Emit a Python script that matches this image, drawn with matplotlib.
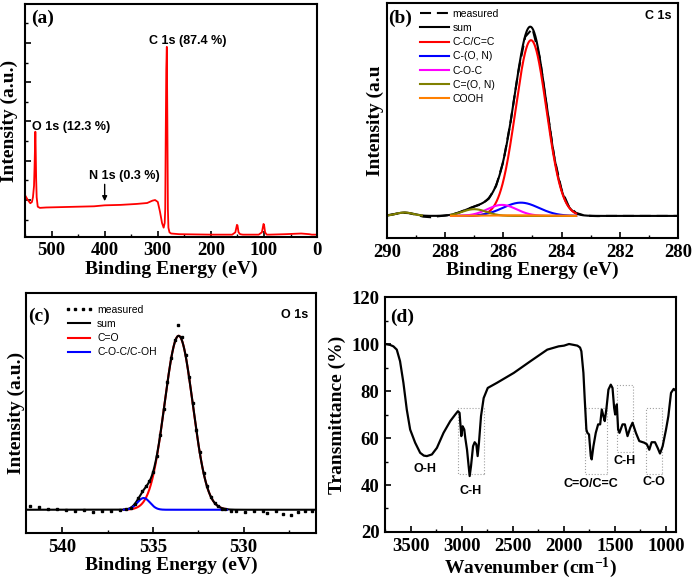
import numpy as np
import matplotlib
matplotlib.use('Agg')
import matplotlib.pyplot as plt
from matplotlib.ticker import MultipleLocator
from matplotlib.patches import Rectangle

# (a) XPS survey
survey_be = [550, 545, 540, 537, 535, 533, 532, 531, 530.5, 530,
             529, 528, 526, 522, 510, 480, 450, 420, 400, 370,
             340, 320, 310, 305, 300, 296, 292, 289, 287, 286,
             285, 284, 283, 282, 281, 280, 278, 275, 260, 200,
             160, 154, 151, 150, 148, 145, 140, 110, 104, 101,
             100, 98, 95, 90, 60, 30, 15, 10, 5, 0]
survey_int = [1.125, 1.007, 0.918, 0.948, 1.07, 1.36, 1.84, 2.43, 2.74, 2.43,
              1.54, 1.07, 0.83, 0.80, 0.81, 0.82, 0.83, 0.84, 0.865, 0.876,
              0.90, 0.924, 0.984, 1.0, 0.95, 0.71, 0.414, 0.296, 0.414, 0.77,
              2.73, 4.33, 4.9, 3.02, 0.77, 0.296, 0.177, 0.147, 0.13, 0.118,
              0.118, 0.177, 0.367, 0.355, 0.177, 0.13, 0.118, 0.118, 0.177, 0.39,
              0.373, 0.177, 0.118, 0.118, 0.13, 0.147, 0.13, 0.118, 0.118, 0.118]

# (b) C 1s: measured points and fitted peaks (center, height, sigma)
c1s_be = [290, 289.75, 289.5, 289.25, 289, 288.75, 288.5, 288.25, 288, 287.75,
          287.5, 287.25, 287, 286.75, 286.5, 286.25, 286, 285.75, 285.5, 285.25,
          285, 284.75, 284.5, 284.25, 284, 283.75, 283.5, 283.25, 283, 282.75,
          282.5, 282, 281.5, 281, 280.5, 280]
c1s_meas = [0.003, 0.010, 0.017, 0.015, 0.006, -0.004, -0.007, -0.002, 0.002, 0.008,
            0.020, 0.036, 0.050, 0.063, 0.092, 0.160, 0.292, 0.505, 0.760, 0.958,
            1.002, 0.846, 0.572, 0.312, 0.140, 0.050, 0.016, 0.004, 0.0, -0.001,
            0.0, 0.0, 0.0, 0.0, 0.0, 0.0]
c1s_names = ['C-C/C=C', 'C-(O, N)', 'C-O-C', 'C=(O, N)', 'COOH']
c1s_center = [285.05, 285.4, 286.05, 287.0, 285.6]
c1s_height = [0.94, 0.071, 0.059, 0.036, 0.003]
c1s_sigma = [0.53, 0.62, 0.5, 0.42, 1.0]
c1s_sat = (289.4, 0.018, 0.3)   # small C=(O, N) feature

# (c) O 1s
o1s_be = [541.8, 541.3, 540.8, 540.3, 539.8, 539.3, 538.8, 538.3, 537.8, 537.3,
          536.8, 536.5, 536.2, 536.0, 535.8, 535.6, 535.4, 535.2, 535.0, 534.8,
          534.6, 534.4, 534.2, 534.0, 533.8, 533.6, 533.4, 533.2, 533.0, 532.8,
          532.6, 532.4, 532.2, 532.0, 531.8, 531.6, 531.4, 531.2, 531.0, 530.7,
          530.4, 529.9, 529.4, 528.9, 528.7, 528.2, 527.8, 527.4, 527.0, 526.6,
          526.2]
o1s_meas = [0.022, 0.016, 0.004, 0.006, 0.0, -0.008, -0.003, -0.012, -0.005, -0.010,
            0.0, 0.002, 0.012, 0.030, 0.070, 0.105, 0.135, 0.165, 0.215, 0.305,
            0.430, 0.575, 0.730, 0.870, 0.970, 1.055, 0.990, 0.885, 0.760, 0.610,
            0.455, 0.330, 0.210, 0.135, 0.075, 0.040, 0.020, 0.006, 0.002, -0.005,
            -0.010, -0.013, -0.006, -0.010, -0.017, -0.008, -0.023, -0.028, -0.015, -0.010,
            -0.010]
o1s_names = ['C=O', 'C-O-C/C-OH']
o1s_center = [533.58, 535.51]
o1s_height = [0.995, 0.067]
o1s_sigma = [0.78, 0.35]

# (d) FTIR
wavenumber = [3750, 3700, 3668, 3635, 3603, 3570, 3537, 3504, 3455, 3406,
              3370, 3340, 3291, 3242, 3177, 3111, 3062, 3036, 3020, 3003,
              2990, 2974, 2964, 2947, 2931, 2921, 2908, 2888, 2872, 2856,
              2843, 2830, 2810, 2784, 2744, 2653, 2489, 2325, 2161, 2050,
              1997, 1948, 1900, 1866, 1840, 1827, 1807, 1794, 1778, 1768,
              1752, 1735, 1726, 1709, 1686, 1663, 1643, 1627, 1611, 1598,
              1581, 1562, 1539, 1522, 1506, 1496, 1480, 1467, 1454, 1424,
              1401, 1375, 1349, 1326, 1293, 1260, 1211, 1185, 1162, 1139,
              1106, 1080, 1057, 1031, 998, 975, 949, 923, 900]
transmittance = [100.0, 99.6, 99.0, 97.6, 92.7, 83.5, 72.1, 63.6, 58.0, 53.7,
                 52.5, 52.3, 53.0, 55.8, 62.2, 67.2, 70.0, 71.4, 70.7, 60.8,
                 65.0, 63.6, 60.0, 55.0, 48.0, 43.8, 48.0, 56.5, 58.2, 57.3,
                 52.3, 58.0, 69.3, 77.0, 81.3, 83.5, 87.7, 92.7, 97.6, 99.0,
                 99.3, 100.0, 99.6, 99.3, 98.5, 96.9, 87.7, 76.4, 63.6, 62.2,
                 61.5, 52.3, 50.9, 56.5, 62.2, 65.8, 65.8, 72.1, 69.3, 67.2,
                 72.8, 80.6, 82.7, 81.3, 72.8, 70.0, 74.3, 63.6, 62.2, 65.8,
                 65.8, 60.8, 64.3, 66.5, 62.2, 58.7, 58.0, 57.3, 55.0, 58.2,
                 58.2, 55.8, 53.4, 56.5, 63.6, 69.3, 79.2, 80.9, 80.0]
# band regions: (label, high wn, low wn, bottom T, top T)
bands = [('C-H', 3036, 2777, 44.5, 72.8),
         ('C=O/C=C', 1794, 1578, 44.5, 72.8),
         ('C-H', 1480, 1326, 54.0, 82.7),
         ('C-O', 1191, 1041, 44.5, 72.8)]


def gauss(x, c, h, s):
    return h * np.exp(-(x - c) ** 2 / (2 * s * s))


plt.rcParams['font.family'] = 'Liberation Serif'
plt.rcParams['font.weight'] = 'bold'
plt.rcParams['axes.labelweight'] = 'bold'
plt.rcParams['mathtext.default'] = 'regular'

SANS = 'Liberation Sans'
TICK = 13.5
LAB = 14


def style(ax):
    for s in ax.spines.values():
        s.set_linewidth(1.5)
    ax.tick_params(direction='in', top=False, right=False, labelsize=TICK,
                   width=1.2, length=4, pad=4)
    ax.tick_params(which='minor', direction='in', width=1.0, length=2.5)


fig = plt.figure(figsize=(6.94, 5.85), dpi=100)
ax_a = fig.add_axes([0.036, 0.595, 0.421, 0.398])
ax_b = fig.add_axes([0.5576, 0.5932, 0.4193, 0.4017])
ax_c = fig.add_axes([0.0375, 0.0889, 0.4179, 0.4103])
ax_d = fig.add_axes([0.5548, 0.0906, 0.4193, 0.4017])

# ---- (a)
ax_a.plot(survey_be, survey_int, color='red', lw=1.3)
ax_a.set_xlim(550, 0)
ax_a.set_ylim(0.06, 5.99)
ax_a.xaxis.set_major_locator(MultipleLocator(100))
ax_a.xaxis.set_minor_locator(MultipleLocator(50))
ax_a.yaxis.set_major_locator(MultipleLocator(1))
ax_a.yaxis.set_minor_locator(MultipleLocator(0.5))
ax_a.set_yticklabels([])
style(ax_a)
ax_a.set_xlabel('Binding Energy (eV)', fontsize=LAB, labelpad=1)
ax_a.set_ylabel('Intensity (a.u.)', fontsize=LAB, labelpad=1)
ax_a.text(0.02, 0.94, '(a)', transform=ax_a.transAxes, fontsize=14,
          va='center', ha='left')
ax_a.text(317, 5.05, 'C 1s (87.4 %)', family=SANS, fontsize=9, va='center')
ax_a.text(537, 2.87, 'O 1s (12.3 %)', family=SANS, fontsize=9, va='center')
ax_a.text(430, 1.62, 'N 1s (0.3 %)', family=SANS, fontsize=9, va='center')
ax_a.annotate('', xy=(400, 0.9), xytext=(400, 1.47),
              arrowprops=dict(arrowstyle='-|>', color='black', lw=1,
                              mutation_scale=7))

# ---- (b)
xb = np.linspace(290, 280, 1001)
comps_b = [gauss(xb, c, h, s) for c, h, s in zip(c1s_center, c1s_height, c1s_sigma)]
sat_b = gauss(xb, *c1s_sat)
sum_b = np.sum(comps_b, axis=0) + sat_b
ax_b.plot(c1s_be, c1s_meas, color='black', lw=1.5, dashes=(5.3, 2.8),
          label='measured')
ax_b.plot(xb, sum_b, color='black', lw=1.5, label='sum')
colors_b = ['#ff0000', '#0000ff', '#ff00ff', '#808000', '#ff8000']
fit = (xb <= 287.8) & (xb >= 283.5)
for y, name, col in zip(comps_b, c1s_names, colors_b):
    ax_b.plot(xb[fit], y[fit], color=col, lw=1.5, label=name)
satm = xb >= 288.8
ax_b.plot(xb[satm], sat_b[satm], color='#808000', lw=1.5)
ax_b.set_xlim(290, 280)
ax_b.set_ylim(-0.118, 1.139)
ax_b.xaxis.set_major_locator(MultipleLocator(2))
ax_b.xaxis.set_minor_locator(MultipleLocator(1))
ax_b.set_yticks([])
style(ax_b)
ax_b.set_xlabel('Binding Energy (eV)', fontsize=LAB, labelpad=1)
ax_b.set_ylabel('Intensity (a.u', fontsize=LAB, labelpad=2)
ax_b.text(0.005, 0.936, '(b)', transform=ax_b.transAxes, fontsize=14,
          va='center', ha='left')
ax_b.text(0.979, 0.943, 'C 1s', transform=ax_b.transAxes, family=SANS,
          fontsize=9, fontweight='bold', va='center', ha='right')
ax_b.legend(loc='upper left', bbox_to_anchor=(0.115, 0.975), frameon=False,
            prop=dict(family=SANS, size=7.5, weight='normal'),
            handlelength=2.7, handletextpad=0.4, labelspacing=0.4,
            borderpad=0, borderaxespad=0)

# ---- (c)
xc = np.linspace(542, 526, 1001)
comps_c = [gauss(xc, c, h, s) for c, h, s in zip(o1s_center, o1s_height, o1s_sigma)]
sum_c = np.sum(comps_c, axis=0)
fitc = (xc <= 536.6) & (xc >= 530.9)
meas_c, = ax_c.plot(o1s_be, o1s_meas, ls='none', marker='s', ms=1.8,
                    color='black', label='measured', zorder=5)
red_c, = ax_c.plot(xc[fitc], comps_c[0][fitc], color='#ff0000', lw=1.5,
                   label=o1s_names[0], zorder=2)
sum_c_line, = ax_c.plot(xc, sum_c, color='black', lw=1.5, label='sum', zorder=3)
blue_c, = ax_c.plot(xc[fitc], comps_c[1][fitc], color='#0000ff', lw=1.5,
                    label=o1s_names[1], zorder=4)
ax_c.set_xlim(542, 526)
ax_c.set_ylim(-0.133, 1.24)
ax_c.xaxis.set_major_locator(MultipleLocator(5))
ax_c.xaxis.set_minor_locator(MultipleLocator(2.5))
ax_c.set_yticks([])
style(ax_c)
ax_c.set_xlabel('Binding Energy (eV)', fontsize=LAB, labelpad=1)
ax_c.set_ylabel('Intensity (a.u.)', fontsize=LAB, labelpad=1)
ax_c.text(0.007, 0.902, '(c)', transform=ax_c.transAxes, fontsize=14,
          va='center', ha='left')
ax_c.text(0.972, 0.908, 'O 1s', transform=ax_c.transAxes, family=SANS,
          fontsize=9, fontweight='bold', va='center', ha='right')
ax_c.legend(handles=[meas_c, sum_c_line, red_c, blue_c],
            loc='upper left', bbox_to_anchor=(0.134, 0.95), frameon=False,
            prop=dict(family=SANS, size=7.5, weight='normal'),
            handlelength=2.7, handletextpad=0.4, labelspacing=0.4,
            borderpad=0, borderaxespad=0, numpoints=4)

# ---- (d)
ax_d.plot(wavenumber, transmittance, color='black', lw=1.6)
for name, hi, lo, bot, top in bands:
    ax_d.add_patch(Rectangle((lo, bot), hi - lo, top - bot, fill=False,
                             ec='#a0a0a0', lw=0.8, ls=':'))
ax_d.text(3357, 46.6, 'O-H', family=SANS, fontsize=9, ha='center', va='center')
ax_d.text(2915, 37.4, 'C-H', family=SANS, fontsize=9, ha='center', va='center')
ax_d.text(1735, 40.3, 'C=O/C=C', family=SANS, fontsize=9, ha='center', va='center')
ax_d.text(1408, 50.2, 'C-H', family=SANS, fontsize=9, ha='center', va='center')
ax_d.text(1113, 41.2, 'C-O', family=SANS, fontsize=9, ha='center', va='center')
ax_d.set_xlim(3750, 900)
ax_d.set_ylim(20, 120)
ax_d.xaxis.set_major_locator(MultipleLocator(500))
ax_d.xaxis.set_minor_locator(MultipleLocator(250))
ax_d.yaxis.set_major_locator(MultipleLocator(20))
ax_d.yaxis.set_minor_locator(MultipleLocator(10))
style(ax_d)
ax_d.set_xlabel('Wavenumber (cm$^{-1}$)', fontsize=LAB, labelpad=1)
ax_d.set_ylabel('Transmittance (%)', fontsize=LAB, labelpad=4)
ax_d.text(0.017, 0.915, '(d)', transform=ax_d.transAxes, fontsize=14,
          va='center', ha='left')

fig.savefig('out.png', dpi=100)
